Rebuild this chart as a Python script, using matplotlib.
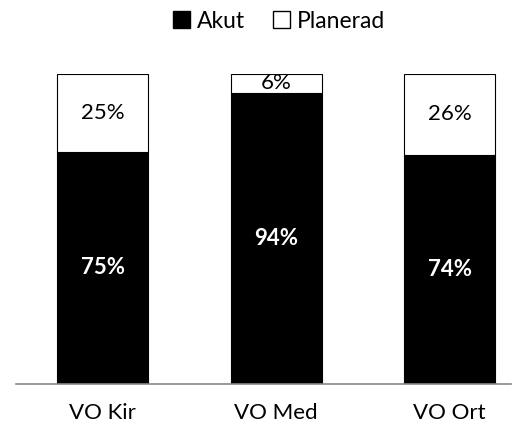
import numpy as np
import matplotlib
matplotlib.use('Agg')
import matplotlib.pyplot as plt
from matplotlib.patches import Patch

plt.rcParams['font.family'] = ['Lato', 'DejaVu Sans']

categories = ['VO Kir', 'VO Med', 'VO Ort']
akut = [75, 94, 74]
planerad = [25, 6, 26]

fig = plt.figure(figsize=(5.13, 4.38), dpi=100)
ax = fig.add_axes([16 / 513, 1 - 384 / 438, 495 / 513, 310 / 438])

x = np.arange(len(categories))
w = 0.524
ax.bar(x, akut, w, color='black', edgecolor='black', linewidth=0.8)
ax.bar(x, planerad, w, bottom=akut, color='white', edgecolor='black', linewidth=0.8)

for i in range(len(categories)):
    ax.text(x[i], akut[i] / 2, '%d%%' % akut[i], ha='center', va='center',
            color='white', fontsize=16, fontweight='bold')
    ax.text(x[i], akut[i] + planerad[i] / 2, '%d%%' % planerad[i], ha='center',
            va='center', color='black', fontsize=16)

ax.set_xlim(-0.5, 2.354)
ax.set_ylim(0, 100)
ax.set_xticks(x)
ax.set_xticklabels(categories, fontsize=16)
ax.tick_params(axis='x', length=0, pad=14)
ax.set_yticks([])
for s in ['top', 'right', 'left']:
    ax.spines[s].set_visible(False)
ax.spines['bottom'].set_color('#888888')
ax.spines['bottom'].set_linewidth(1.2)

handles = [Patch(facecolor='black', edgecolor='black', label='Akut'),
           Patch(facecolor='white', edgecolor='black', label='Planerad')]
fig.legend(handles=handles, loc='center', bbox_to_anchor=(279 / 513, 1 - 21 / 438),
           ncol=2, frameon=False, fontsize=16.5, handlelength=0.75,
           handleheight=0.75, handletextpad=0.3, columnspacing=1.2)

fig.savefig('out.png', dpi=100)
